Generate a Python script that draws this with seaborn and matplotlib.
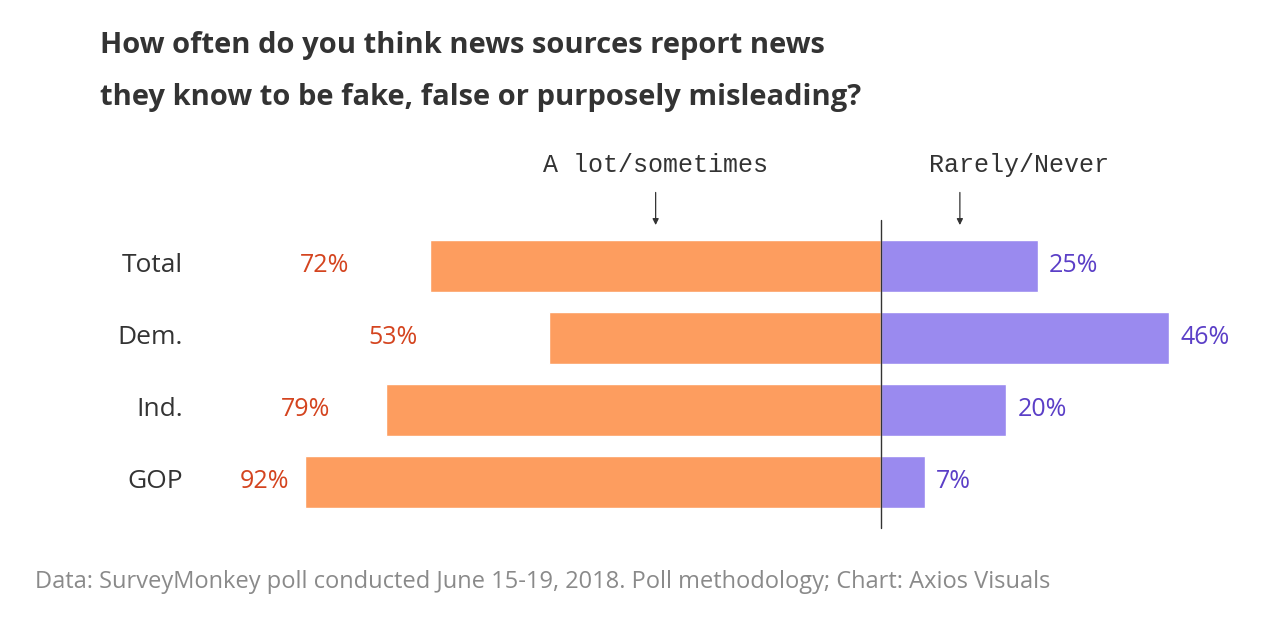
import matplotlib
matplotlib.use("Agg")
import matplotlib.pyplot as plt
import seaborn as sns
import pandas as pd

groups = ["Total", "Dem.", "Ind.", "GOP"]
often = [72, 53, 79, 92]
rarely = [25, 46, 20, 7]
# extra gap (in % units) between orange labels and bar start, as in the original
often_label_gap = [13, 21, 9, 2.5]

ORANGE = "#fd9d5f"
PURPLE = "#9a8aef"
ORANGE_TXT = "#d4441f"
PURPLE_TXT = "#5b3fc7"

sns.set_style("white")
plt.rcParams["font.family"] = ["Open Sans", "DejaVu Sans"]

fig = plt.figure(figsize=(12.72, 6.22), dpi=100)
ax = fig.add_axes([0, 0, 1, 1])

df = pd.DataFrame({"group": groups * 2,
                   "value": [-v for v in often] + rarely,
                   "side": ["often"] * 4 + ["rarely"] * 4})
sns.barplot(data=df, x="value", y="group", hue="side", dodge=False,
            palette={"often": ORANGE, "rarely": PURPLE}, width=0.72,
            legend=False, ax=ax, saturation=1)

ppu = 6.26
ax.set_xlim(-881 / ppu, (1272 - 881) / ppu)
ax.set_ylim((622 - 266) / 72, -266 / 72)
ax.axis("off")

ax.plot([0, 0], [-0.64, 3.64], color="#333333", lw=1)

for i, g in enumerate(groups):
    ax.text(-111.5, i, g, ha="right", va="center", fontsize=19, color="#333333")
    ax.text(-often[i] - often_label_gap[i], i, f"{often[i]}%", ha="right",
            va="center", fontsize=18, color=ORANGE_TXT)
    ax.text(rarely[i] + 1.8, i, f"{rarely[i]}%", ha="left", va="center",
            fontsize=18, color=PURPLE_TXT)

ax.text(-36, -1.405, "A lot/sometimes", ha="center", va="center",
        fontsize=18, family="Liberation Mono", color="#333333")
ax.text(22, -1.405, "Rarely/Never", ha="center", va="center",
        fontsize=18, family="Liberation Mono", color="#333333")
for xa in (-36, 12.6):
    ax.annotate("", xy=(xa, -0.53), xytext=(xa, -1.06),
                arrowprops=dict(arrowstyle="-|>", color="#333333", lw=0.9,
                                mutation_scale=9))

fig.text(100 / 1272, 1 - 45 / 622, "How often do you think news sources report news",
         fontsize=21, fontweight="bold", color="#333333", va="center")
fig.text(100 / 1272, 1 - 97 / 622, "they know to be fake, false or purposely misleading?",
         fontsize=21, fontweight="bold", color="#333333", va="center")
fig.text(35 / 1272, 1 - 582 / 622,
         "Data: SurveyMonkey poll conducted June 15-19, 2018. Poll methodology; Chart: Axios Visuals",
         fontsize=17, color="#8a8a8a", va="center")

fig.savefig("out.png", dpi=100)
